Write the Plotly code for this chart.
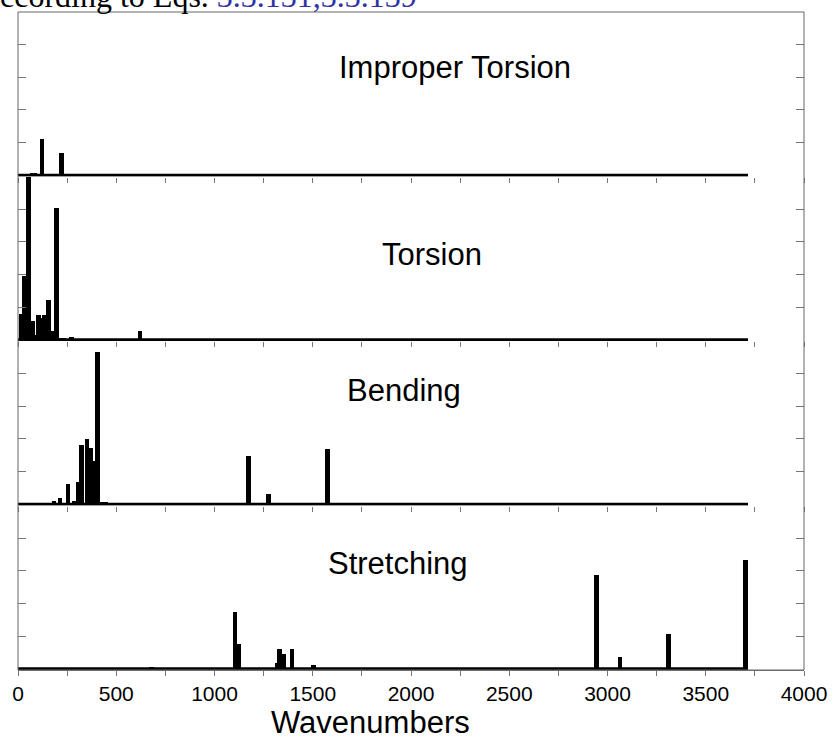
import plotly.graph_objects as go
from plotly.subplots import make_subplots

# ---- data (wavenumber, intensity) ----
improper_x = [80, 122, 221, 240]
improper_y = [0.06, 1.12, 0.67, 0.03]
improper_w = [36, 22, 22, 14]

torsion_x = [19, 32, 54, 75, 90, 103, 119, 134, 154, 175, 195, 215, 232, 273, 622]
torsion_y = [0.81, 1.97, 5.0, 0.60, 0.15, 0.76, 0.68, 0.76, 1.24, 0.27, 4.04, 0.08, 0.06, 0.10, 0.28]

bending_x = [184, 214, 254, 285, 305, 324, 352, 370, 384, 405, 425, 445, 1172, 1274, 1575]
bending_y = [0.09, 0.19, 0.61, 0.09, 0.68, 1.81, 2.01, 1.71, 1.32, 4.65, 0.08, 0.07, 1.47, 0.32, 1.69]

stretch_x = [680, 1045, 1084, 1104, 1123, 1155, 1245, 1317, 1332, 1354, 1394, 1505, 2945, 3063, 3310, 3702]
stretch_y = [0.08, 0.05, 0.05, 1.74, 0.76, 0.05, 0.05, 0.18, 0.63, 0.48, 0.63, 0.12, 2.88, 0.38, 1.08, 3.35]

panel_titles = ["Improper Torsion", "Torsion", "Bending", "Stretching"]
x_title = "Wavenumbers"
baseline_x = [0, 3715]
baseline_y = [0, 0]
x_tickvals = list(range(0, 4001, 250))
x_ticktext = [str(v) if v % 500 == 0 else "" for v in x_tickvals]
y_tickvals = [1, 2, 3, 4]

BAR_W = 23

fig = make_subplots(rows=4, cols=1, shared_xaxes=True, vertical_spacing=0)

panels = [
    (improper_x, improper_y, improper_w),
    (torsion_x, torsion_y, BAR_W),
    (bending_x, bending_y, BAR_W),
    (stretch_x, stretch_y, BAR_W),
]
for i, (xs, ys, w) in enumerate(panels, start=1):
    fig.add_trace(go.Bar(x=xs, y=ys, width=w, marker=dict(color="black", line=dict(width=0)),
                         showlegend=False), row=i, col=1)
    fig.add_trace(go.Scatter(x=baseline_x, y=baseline_y, mode="lines",
                             line=dict(color="black", width=3), showlegend=False), row=i, col=1)

for i in range(1, 5):
    fig.update_yaxes(range=[-0.04, 5], tickvals=y_tickvals, ticks="inside", ticklen=8,
                     tickcolor="#777", showticklabels=False, showgrid=False, zeroline=False,
                     showline=False, mirror="ticks", automargin=False, row=i, col=1)
    fig.update_xaxes(range=[0, 4000], tickvals=x_tickvals, ticktext=x_ticktext,
                     ticks="outside", ticklen=5, tickcolor="#777", showgrid=False,
                     zeroline=False, showline=(i == 4), linecolor="#777", linewidth=1,
                     showticklabels=(i == 4), automargin=False, row=i, col=1)

fig.update_xaxes(tickfont=dict(family="Liberation Sans Narrow, Arial Narrow, Liberation Sans",
                               size=21, color="black"), row=4, col=1)

fig.add_annotation(text=x_title, x=0.449, y=-0.0805, xref="paper", yref="paper",
                   showarrow=False, xanchor="center", yanchor="middle",
                   font=dict(family="Liberation Sans, Arial", size=31, color="black"))

title_pos = [(0.556, 0.916), (0.527, 0.631), (0.491, 0.4255), (0.483, 0.1626)]
for t, (px, py) in zip(panel_titles, title_pos):
    fig.add_annotation(text=t, x=px, y=py, xref="paper", yref="paper", showarrow=False,
                       xanchor="center", yanchor="middle",
                       font=dict(family="Liberation Sans, Arial", size=31, color="black"))

fig.add_annotation(text="ccording to Eqs. <span style='color:#3333a3'>3.3.131,3.3.139</span>",
                   x=-0.026, y=0.994, xref="paper", yref="paper", xanchor="left", yanchor="bottom",
                   showarrow=False, font=dict(family="Liberation Serif, Times New Roman", size=32, color="black"))

fig.add_shape(type="rect", xref="paper", yref="paper", x0=0, x1=1, y0=0, y1=1,
              line=dict(color="#666", width=1), fillcolor="rgba(0,0,0,0)", layer="above")

fig.update_layout(width=836, height=740, margin=dict(l=18, r=32, t=12, b=70),
                  paper_bgcolor="white", plot_bgcolor="white", bargap=0)

fig.write_html("out.html")
